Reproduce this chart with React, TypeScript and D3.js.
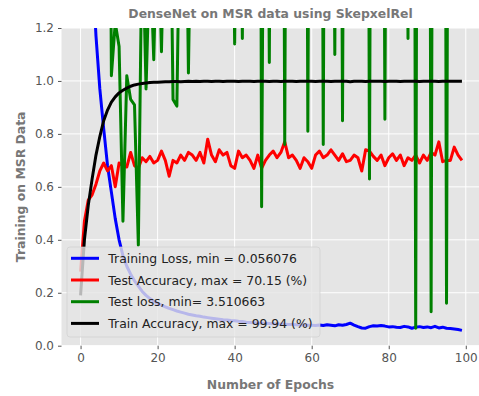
import React, { useEffect, useRef } from 'react';
import * as d3 from 'd3';

// values, one per epoch (0..99)
const trainLoss = [
  2.9, 2.3, 1.85, 1.45, 1.17, 0.97, 0.82, 0.68, 0.58, 0.48,
  0.40, 0.34, 0.30, 0.27, 0.245, 0.225, 0.205, 0.19, 0.178, 0.168,
  0.16, 0.153, 0.147, 0.141, 0.136, 0.131, 0.127, 0.123, 0.119, 0.116,
  0.113, 0.111, 0.108, 0.106, 0.104, 0.102, 0.1, 0.098, 0.097, 0.095,
  0.094, 0.092, 0.091, 0.089, 0.088, 0.087, 0.086, 0.085, 0.085, 0.084,
  0.083, 0.082, 0.082, 0.081, 0.08, 0.08, 0.079, 0.078, 0.078, 0.077,
  0.077, 0.076, 0.078, 0.076, 0.079, 0.077, 0.075, 0.079, 0.077, 0.08,
  0.085, 0.078, 0.072, 0.067, 0.066, 0.072, 0.075, 0.074, 0.076, 0.074,
  0.071, 0.072, 0.07, 0.069, 0.073, 0.071, 0.066, 0.07, 0.072, 0.069,
  0.071, 0.068, 0.073, 0.067, 0.07, 0.066, 0.065, 0.063, 0.061, 0.058,
];

const testAcc = [
  0.28, 0.47, 0.55, 0.57, 0.61, 0.66, 0.69, 0.66, 0.68, 0.6,
  0.69, 0.68, 0.675, 0.73, 0.68, 0.67, 0.71, 0.695, 0.715, 0.69,
  0.7, 0.735, 0.7, 0.64, 0.7, 0.69, 0.72, 0.7, 0.73, 0.72,
  0.7, 0.73, 0.69, 0.78, 0.72, 0.695, 0.74, 0.72, 0.73, 0.68,
  0.67, 0.735, 0.71, 0.72, 0.7, 0.67, 0.72, 0.67, 0.7, 0.72,
  0.735, 0.71, 0.73, 0.77, 0.71, 0.72, 0.7, 0.67, 0.71, 0.695,
  0.67, 0.72, 0.735, 0.71, 0.72, 0.74, 0.72, 0.7, 0.725, 0.695,
  0.7, 0.72, 0.71, 0.66, 0.74, 0.735, 0.715, 0.7, 0.72, 0.68,
  0.71, 0.725, 0.7, 0.72, 0.68, 0.71, 0.7, 0.72, 0.69, 0.72,
  0.7, 0.73, 0.72, 0.77, 0.695, 0.7, 0.7, 0.75, 0.72, 0.7,
];

const testLoss = [
  6.5, 5.2, 4.8, 4.1, 3.9, 4.5, 3.7, 3.6, 1.02, 1.22,
  1.13, 0.47, 1.02, 0.93, 0.91, 0.38, 1.6, 0.97, 1.5, 1.08,
  1.7, 1.11, 1.8, 2.1, 0.93, 0.905, 1.9, 2.2, 1.03, 2.0,
  3.9, 4.2, 3.7, 4.6, 4.0, 3.8, 4.4, 3.9, 4.3, 2.4,
  1.14, 2.5, 1.16, 4.1, 3.8, 4.9, 5.6, 0.525, 3.2, 1.07,
  4.0, 3.7, 4.8, 0.76, 4.5, 3.9, 4.2, 4.6, 5.1, 0.81,
  4.4, 3.8, 5.0, 0.76, 4.7, 3.3, 1.1, 4.2, 0.85, 4.5,
  3.9, 4.1, 3.8, 4.4, 5.3, 0.63, 4.8, 3.7, 4.9, 0.855,
  4.3, 3.9, 4.5, 4.0, 3.4, 1.16, 6.2, 0.066, 5.8, 4.2,
  6.0, 0.128, 5.5, 4.1, 5.9, 0.16, 5.2, 4.0, 4.6, 3.9,
];

const trainAcc = [
  0.19, 0.4, 0.53, 0.63, 0.72, 0.79, 0.85, 0.89, 0.92, 0.94,
  0.955, 0.965, 0.973, 0.98, 0.985, 0.988, 0.99, 0.992, 0.994, 0.995,
  0.995, 0.996, 0.997, 0.997, 0.998, 0.998, 0.997, 0.998, 0.999, 0.998,
  0.999, 0.998, 0.999, 0.999, 0.998, 0.999, 0.999, 0.998, 0.999, 0.999,
  0.999, 0.998, 0.999, 0.999, 0.999, 0.998, 0.999, 0.999, 0.999, 0.998,
  0.999, 0.999, 0.998, 0.999, 0.999, 0.999, 0.998, 0.999, 0.999, 0.999,
  0.999, 0.998, 0.999, 0.999, 0.999, 0.998, 0.999, 0.999, 0.999, 0.999,
  0.997, 0.999, 0.999, 0.999, 0.998, 0.999, 0.999, 0.999, 0.999, 0.998,
  0.999, 0.999, 0.999, 0.998, 0.999, 0.999, 0.999, 0.999, 0.998, 0.999,
  0.999, 0.999, 0.999, 0.998, 0.999, 0.999, 0.999, 0.999, 0.999, 0.999,
];

const seriesNames = [
  'Training Loss, min = 0.056076',
  'Test Accuracy, max = 70.15 (%)',
  'Test loss, min= 3.510663',
  'Train Accuracy, max = 99.94 (%)',
];
const seriesColors = ['#0000ff', '#ff0000', '#008000', '#000000'];
const xTicks = [0, 20, 40, 60, 80, 100];
const yTicks = [0, 0.2, 0.4, 0.6, 0.8, 1.0, 1.2];

const App: React.FC = () => {
  const ref = useRef<SVGSVGElement | null>(null);

  useEffect(() => {
    if (!ref.current) return;
    const svg = d3.select(ref.current);
    svg.selectAll('*').remove();

    const width = 479;
    const height = 396;
    const font = 'DejaVu Sans';
    const plot = { left: 61.5, right: 481, top: 28, bottom: 345.7 };

    const x = d3.scaleLinear().domain([-4.95, 103.95]).range([plot.left, plot.right]);
    const y = d3.scaleLinear().domain([0, 1.2]).range([plot.bottom, plot.top]);

    svg.append('rect').attr('width', width).attr('height', height).attr('fill', '#fff');

    // plot background
    svg.append('rect')
      .attr('x', plot.left).attr('y', plot.top)
      .attr('width', plot.right - plot.left).attr('height', plot.bottom - plot.top)
      .attr('fill', '#e5e5e5');

    // grid
    const grid = svg.append('g').attr('stroke', '#fff').attr('stroke-width', 1);
    xTicks.forEach(t => {
      grid.append('line').attr('x1', x(t)).attr('x2', x(t)).attr('y1', plot.top).attr('y2', plot.bottom);
    });
    yTicks.forEach(t => {
      grid.append('line').attr('x1', plot.left).attr('x2', plot.right).attr('y1', y(t)).attr('y2', y(t));
    });

    // axes
    const xAxis = svg.append('g')
      .attr('transform', `translate(0,${plot.bottom})`)
      .call(d3.axisBottom(x).tickValues(xTicks).tickFormat(d3.format('d')).tickSize(3.5).tickPadding(4));
    const yAxis = svg.append('g')
      .attr('transform', `translate(${plot.left},0)`)
      .call(d3.axisLeft(y).tickValues(yTicks).tickFormat(d3.format('.1f')).tickSize(3.5).tickPadding(4));
    [xAxis, yAxis].forEach(a => {
      a.select('.domain').remove();
      a.selectAll('line').attr('stroke', '#555');
      a.selectAll('text').attr('fill', '#555').attr('font-family', font).attr('font-size', 12);
    });

    // lines
    svg.append('clipPath').attr('id', 'plot-clip')
      .append('rect')
      .attr('x', plot.left).attr('y', plot.top)
      .attr('width', plot.right - plot.left).attr('height', plot.bottom - plot.top);

    const line = d3.line<number>().x((_, i) => x(i)).y(d => y(d));
    const lines = svg.append('g').attr('clip-path', 'url(#plot-clip)');
    [trainLoss, testAcc, testLoss, trainAcc].forEach((s, i) => {
      lines.append('path')
        .datum(s)
        .attr('d', line)
        .attr('fill', 'none')
        .attr('stroke', seriesColors[i])
        .attr('stroke-width', 3)
        .attr('stroke-linejoin', 'round');
    });

    // legend
    const lg = svg.append('g');
    lg.append('rect')
      .attr('x', 67).attr('y', 247).attr('width', 253).attr('height', 90).attr('rx', 3)
      .attr('fill', '#e5e5e5').attr('fill-opacity', 0.8)
      .attr('stroke', '#cccccc').attr('stroke-opacity', 0.8).attr('stroke-width', 0.8);
    seriesNames.forEach((name, i) => {
      const cy = 258.3 + i * 21.7;
      lg.append('line')
        .attr('x1', 71).attr('x2', 99).attr('y1', cy).attr('y2', cy)
        .attr('stroke', seriesColors[i]).attr('stroke-width', 3);
      lg.append('text')
        .attr('x', 108.3).attr('y', cy + 4.5)
        .attr('font-family', font).attr('font-size', 12.4).attr('fill', '#222')
        .text(name);
    });

    // title and labels
    svg.append('text')
      .attr('x', 270.5).attr('y', 18)
      .attr('text-anchor', 'middle')
      .attr('font-family', font).attr('font-size', 12.4).attr('font-weight', 'bold').attr('fill', '#777')
      .text('DenseNet on MSR data using SkepxelRel');
    svg.append('text')
      .attr('x', 270.5).attr('y', 389)
      .attr('text-anchor', 'middle')
      .attr('font-family', font).attr('font-size', 12.4).attr('font-weight', 'bold').attr('fill', '#777')
      .text('Number of Epochs');
    svg.append('text')
      .attr('transform', `translate(24.5,${(plot.top + plot.bottom) / 2}) rotate(-90)`)
      .attr('text-anchor', 'middle')
      .attr('font-family', font).attr('font-size', 12.4).attr('font-weight', 'bold').attr('fill', '#777')
      .text('Training on MSR Data');
  }, []);

  return (
    <svg
      ref={ref}
      width={479}
      height={396}
      style={{ position: 'absolute', left: 0, top: 0, display: 'block' }}
    />
  );
};

export default App;
